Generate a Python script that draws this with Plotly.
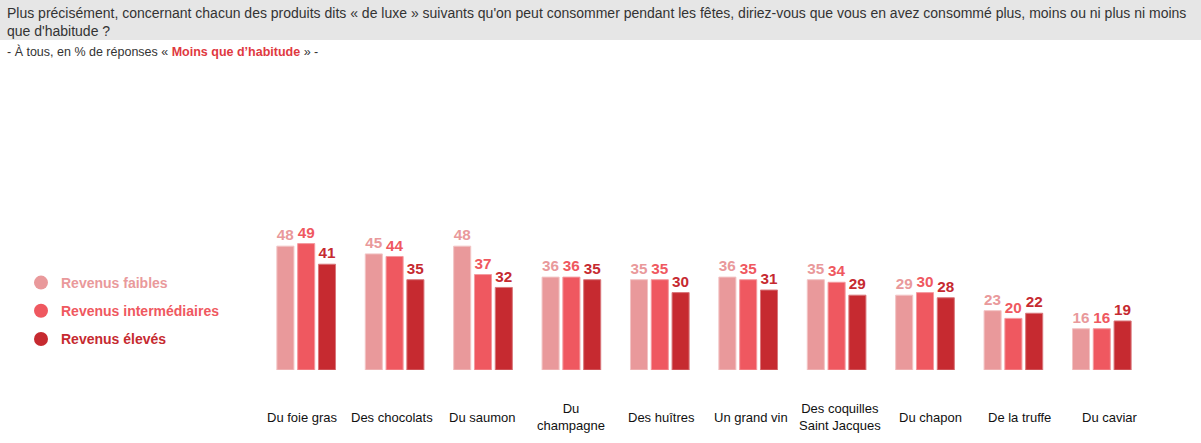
import plotly.graph_objects as go

categories = ["Du foie gras", "Des chocolats", "Du saumon", "Du<br>champagne", "Des huîtres",
              "Un grand vin", "Des coquilles<br>Saint Jacques", "Du chapon", "De la truffe", "Du caviar"]
series_names = ["Revenus faibles", "Revenus intermédiaires", "Revenus élevés"]
rev_faibles = [48, 45, 48, 36, 35, 36, 35, 29, 23, 16]
rev_inter = [49, 44, 37, 36, 35, 35, 34, 30, 20, 16]
rev_eleves = [41, 35, 32, 35, 30, 31, 29, 28, 22, 19]
colors = ["#E9999B", "#EF5860", "#C62A30"]
line_colors = ["#F2C4C5", "#F49A9F", "#D9777B"]

W, H = 1201, 443
ML, MR, MT, MB = 262, 55, 100, 73
PW, PH = W - ML - MR, H - MT - MB

def px_x(p):
    return (p - ML) / PW

def px_y(p):
    return (H - MB - p) / PH

FONT = "Liberation Sans, Arial, sans-serif"
fig = go.Figure()
idx = list(range(len(categories)))
for name, vals, c, lc in zip(series_names, [rev_faibles, rev_inter, rev_eleves], colors, line_colors):
    fig.add_trace(go.Bar(
        x=idx, y=vals, name=name, marker_color=c,
        marker_line=dict(color=lc, width=1),
        text=[str(v) for v in vals], textposition="outside",
        textfont=dict(family=FONT, size=16, color=c, weight="bold"),
        cliponaxis=False, showlegend=False,
    ))
for name, c in zip(series_names, colors):
    fig.add_trace(go.Scatter(
        x=[None], y=[None], mode="markers",
        name=f'<span style="color:{c}"><b>{name}</b></span>',
        marker=dict(symbol="circle", size=14, color=c),
        legendgroup=name,
    ))

annotations = []
for i, cat in enumerate(categories):
    annotations.append(dict(x=i, y=0, xref="x", yref="paper", yshift=-47, xshift=-4 + 1.3 * i,
                            yanchor="middle", xanchor="center", text=cat, showarrow=False,
                            font=dict(family=FONT, size=13, color="#111111")))
annotations.append(dict(x=px_x(5), y=px_y(3), xref="paper", yref="paper", xanchor="left", yanchor="top",
                        align="left", showarrow=False,
                        text="Plus précisément, concernant chacun des produits dits « de luxe » suivants qu'on peut consommer pendant les fêtes, diriez-vous que vous en avez consommé plus, moins ou ni plus ni moins<br>que d'habitude ?",
                        font=dict(family=FONT, size=14, color="#333333")))
annotations.append(dict(x=px_x(5), y=px_y(52), xref="paper", yref="paper", xanchor="left", yanchor="middle",
                        showarrow=False,
                        text='- À tous, en % de réponses « <b><span style="color:#E0393F">Moins que d’habitude</span></b> » -',
                        font=dict(family=FONT, size=12.5, color="#333333")))

shapes = [dict(type="rect", xref="paper", yref="paper", x0=px_x(0), x1=px_x(W), y0=px_y(40), y1=px_y(0),
               fillcolor="#E6E6E6", line=dict(width=0), layer="below")]

fig.update_layout(
    width=W, height=H, margin=dict(l=ML, r=MR, t=MT, b=MB),
    paper_bgcolor="white", plot_bgcolor="white",
    barmode="group", bargap=0.294, bargroupgap=0.18,
    xaxis=dict(range=[-0.5, len(categories) - 0.5], showticklabels=False, showgrid=False,
               zeroline=False, showline=False, ticks=""),
    yaxis=dict(range=[0, PH / 2.58], visible=False),
    legend=dict(x=px_x(21), y=px_y(267), xanchor="left", yanchor="top", tracegroupgap=7,
                font=dict(family=FONT, size=14), bgcolor="rgba(0,0,0,0)"),
    annotations=annotations, shapes=shapes,
    font=dict(family=FONT),
)
fig.write_html("out.html", config={"displayModeBar": False},
               post_script="document.body.style.margin='0';document.body.style.padding='0';")
